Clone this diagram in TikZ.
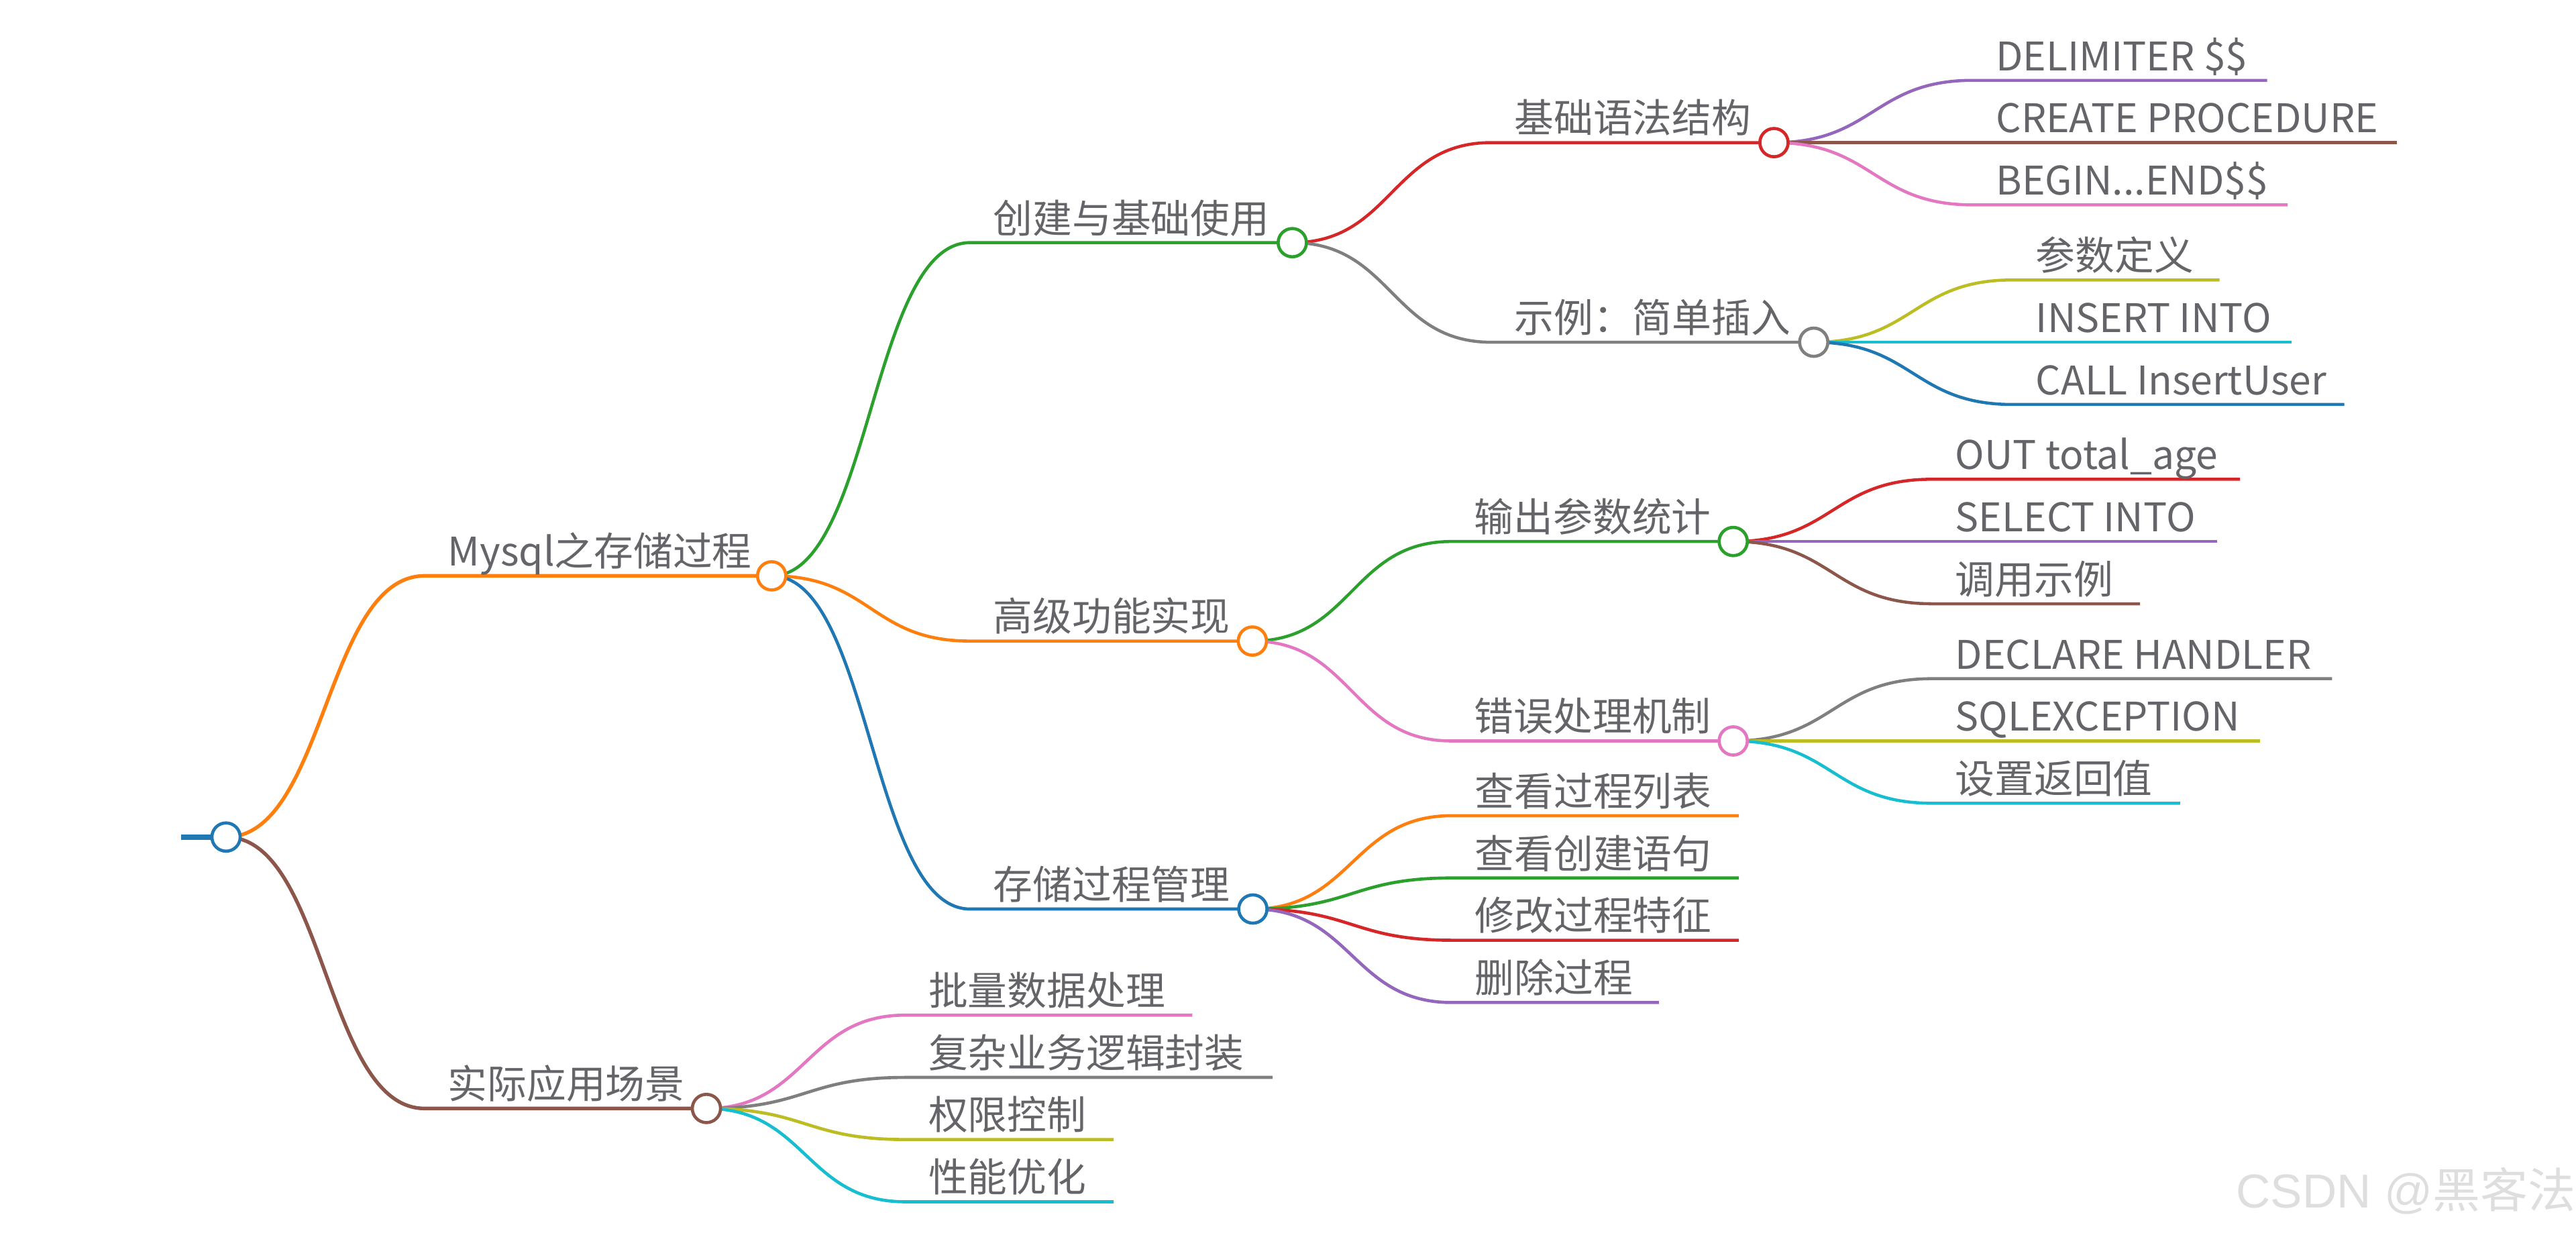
\documentclass[tikz,border=0pt]{standalone}
\usepackage{fontspec}
\setmainfont{Noto Sans CJK SC}
\newfontfamily\wmlatin{Liberation Sans}
\usetikzlibrary{calc}
\definecolor{cBlue}{HTML}{1F77B4}
\definecolor{cOrange}{HTML}{FF7F0E}
\definecolor{cGreen}{HTML}{2CA02C}
\definecolor{cRed}{HTML}{D62728}
\definecolor{cPurple}{HTML}{9467BD}
\definecolor{cBrown}{HTML}{8C564B}
\definecolor{cPink}{HTML}{E377C2}
\definecolor{cGray}{HTML}{7F7F7F}
\definecolor{cOlive}{HTML}{BCBD22}
\definecolor{cCyan}{HTML}{17BECF}
\definecolor{txt}{HTML}{646469}
\definecolor{wmcol}{HTML}{DEDEDE}
\pgfdeclarelayer{bg}
\pgfsetlayers{bg,main}
\newcommand\mmlink[5]{\draw[draw=#1,line width=#2] let \p1=(#3.center), \p2=(#4), \p3=($(#3.center)!.5!(#4)$) in (\p1) .. controls (\x3,\y1) and (\x3,\y2) .. (\p2) -- (#5);}
\tikzset{
  dot/.style={circle, draw=#1, fill=white, line width=1.9pt, minimum size=17.2pt, inner sep=0pt},
  lbl/.style={anchor=base west, inner sep=0pt, text=txt, font=\fontsize{24}{28}\selectfont},
}
\begin{document}
\begin{tikzpicture}[x=1pt,y=-1pt]
\useasboundingbox (0,0) rectangle (1568,750.5);
% root
\coordinate (R0) at (110.3,509.5);
\node[dot=cBlue] (R) at (137.6,509.5) {};
% level 1
\coordinate (A0) at (258.5,350.5);
\node[dot=cOrange] (A) at (469.7,350.5) {};
\node[lbl] (At) at ($(A0)+(14,-6)$) {Mysql之存储过程};
\coordinate (B0) at (258.5,674.7);
\node[dot=cBrown] (B) at (430,674.7) {};
\node[lbl] (Bt) at ($(B0)+(14,-6)$) {实际应用场景};
% level 2
\coordinate (C0) at (590.4,147.7);
\node[dot=cGreen] (C) at (786.6,147.7) {};
\node[lbl] (Ct) at ($(C0)+(14,-6)$) {创建与基础使用};
\coordinate (D0) at (590.4,390.2);
\node[dot=cOrange] (D) at (762.3,390.2) {};
\node[lbl] (Dt) at ($(D0)+(14,-6)$) {高级功能实现};
\coordinate (E0) at (590.4,553.3);
\node[dot=cBlue] (E) at (762.6,553.3) {};
\node[lbl] (Et) at ($(E0)+(14,-6)$) {存储过程管理};
% level 3
\coordinate (F0) at (907.6,86.8);
\node[dot=cRed] (F) at (1079.8,86.8) {};
\node[lbl] (Ft) at ($(F0)+(14,-6)$) {基础语法结构};
\coordinate (G0) at (907.6,208.3);
\node[dot=cGray] (G) at (1104,208.3) {};
\node[lbl] (Gt) at ($(G0)+(14,-6)$) {示例：简单插入};
\coordinate (H0) at (883.3,329.6);
\node[dot=cGreen] (H) at (1055,329.6) {};
\node[lbl] (Ht) at ($(H0)+(14,-6)$) {输出参数统计};
\coordinate (I0) at (883.3,451);
\node[dot=cPink] (I) at (1055,451) {};
\node[lbl] (It) at ($(I0)+(14,-6)$) {错误处理机制};
% leaves of E
\coordinate (E10) at (883.6,496.5); \coordinate (E1e) at (1058.4,496.5);
\node[lbl] (E1t) at ($(E10)+(14,-6)$) {查看过程列表};
\coordinate (E20) at (883.6,534.4); \coordinate (E2e) at (1058.4,534.4);
\node[lbl] (E2t) at ($(E20)+(14,-6)$) {查看创建语句};
\coordinate (E30) at (883.6,572.3); \coordinate (E3e) at (1058.4,572.3);
\node[lbl] (E3t) at ($(E30)+(14,-6)$) {修改过程特征};
\coordinate (E40) at (883.6,610.2); \coordinate (E4e) at (1009.7,610.2);
\node[lbl] (E4t) at ($(E40)+(14,-6)$) {删除过程};
% leaves of B
\coordinate (B10) at (551,617.9); \coordinate (B1e) at (725.8,617.9);
\node[lbl] (B1t) at ($(B10)+(14,-6)$) {批量数据处理};
\coordinate (B20) at (551,655.8); \coordinate (B2e) at (774.6,655.8);
\node[lbl] (B2t) at ($(B20)+(14,-6)$) {复杂业务逻辑封装};
\coordinate (B30) at (551,693.6); \coordinate (B3e) at (677.9,693.6);
\node[lbl] (B3t) at ($(B30)+(14,-6)$) {权限控制};
\coordinate (B40) at (551,731.5); \coordinate (B4e) at (677.9,731.5);
\node[lbl] (B4t) at ($(B40)+(14,-6)$) {性能优化};
% leaves of F
\coordinate (F10) at (1200.8,48.9); \coordinate (F1e) at (1380,48.9);
\node[lbl] (F1t) at ($(F10)+(14,-6)$) {DELIMITER \$\$};
\coordinate (F20) at (1200.8,86.8); \coordinate (F2e) at (1458.8,86.8);
\node[lbl] (F2t) at ($(F20)+(14,-6)$) {CREATE PROCEDURE};
\coordinate (F30) at (1200.8,124.7); \coordinate (F3e) at (1392.4,124.7);
\node[lbl] (F3t) at ($(F30)+(14,-6)$) {BEGIN...END\$\$};
% leaves of G
\coordinate (G10) at (1225,170.4); \coordinate (G1e) at (1351,170.4);
\node[lbl] (G1t) at ($(G10)+(14,-6)$) {参数定义};
\coordinate (G20) at (1225,208.3); \coordinate (G2e) at (1395,208.3);
\node[lbl] (G2t) at ($(G20)+(14,-6)$) {INSERT INTO};
\coordinate (G30) at (1225,246.2); \coordinate (G3e) at (1427,246.2);
\node[lbl] (G3t) at ($(G30)+(14,-6)$) {CALL InsertUser};
% leaves of H
\coordinate (H10) at (1176,291.7); \coordinate (H1e) at (1363.5,291.7);
\node[lbl] (H1t) at ($(H10)+(14,-6)$) {OUT total\_age};
\coordinate (H20) at (1176,329.6); \coordinate (H2e) at (1349.7,329.6);
\node[lbl] (H2t) at ($(H20)+(14,-6)$) {SELECT INTO};
\coordinate (H30) at (1176,367.5); \coordinate (H3e) at (1302.6,367.5);
\node[lbl] (H3t) at ($(H30)+(14,-6)$) {调用示例};
% leaves of I
\coordinate (I10) at (1176,413.1); \coordinate (I1e) at (1419.5,413.1);
\node[lbl] (I1t) at ($(I10)+(14,-6)$) {DECLARE HANDLER};
\coordinate (I20) at (1176,451); \coordinate (I2e) at (1375.5,451);
\node[lbl] (I2t) at ($(I20)+(14,-6)$) {SQLEXCEPTION};
\coordinate (I30) at (1176,488.9); \coordinate (I3e) at (1327,488.9);
\node[lbl] (I3t) at ($(I30)+(14,-6)$) {设置返回值};
% watermark
\node[anchor=base west, inner sep=0pt, text=wmcol, font=\fontsize{29}{33}\selectfont] (wm) at (1361,735) {{\wmlatin CSDN @}黑客法};
% connectors
\begin{pgfonlayer}{bg}
\draw[draw=cBlue, line width=3.1pt] (R0) -- (R.center);
\mmlink{cOrange}{2.2pt}{R}{A0}{A.center}
\mmlink{cBrown}{2.2pt}{R}{B0}{B.center}
\mmlink{cGreen}{1.9pt}{A}{C0}{C.center}
\mmlink{cOrange}{1.9pt}{A}{D0}{D.center}
\mmlink{cBlue}{1.9pt}{A}{E0}{E.center}
\mmlink{cRed}{1.85pt}{C}{F0}{F.center}
\mmlink{cGray}{1.85pt}{C}{G0}{G.center}
\mmlink{cGreen}{1.85pt}{D}{H0}{H.center}
\mmlink{cPink}{1.85pt}{D}{I0}{I.center}
\mmlink{cOrange}{1.9pt}{E}{E10}{E1e}
\mmlink{cGreen}{1.9pt}{E}{E20}{E2e}
\mmlink{cRed}{1.9pt}{E}{E30}{E3e}
\mmlink{cPurple}{1.9pt}{E}{E40}{E4e}
\mmlink{cPink}{1.9pt}{B}{B10}{B1e}
\mmlink{cGray}{1.9pt}{B}{B20}{B2e}
\mmlink{cOlive}{1.9pt}{B}{B30}{B3e}
\mmlink{cCyan}{1.9pt}{B}{B40}{B4e}
\mmlink{cPurple}{1.85pt}{F}{F10}{F1e}
\mmlink{cBrown}{1.85pt}{F}{F20}{F2e}
\mmlink{cPink}{1.85pt}{F}{F30}{F3e}
\mmlink{cOlive}{1.85pt}{G}{G10}{G1e}
\mmlink{cCyan}{1.85pt}{G}{G20}{G2e}
\mmlink{cBlue}{1.85pt}{G}{G30}{G3e}
\mmlink{cRed}{1.85pt}{H}{H10}{H1e}
\mmlink{cPurple}{1.85pt}{H}{H20}{H2e}
\mmlink{cBrown}{1.85pt}{H}{H30}{H3e}
\mmlink{cGray}{1.85pt}{I}{I10}{I1e}
\mmlink{cOlive}{1.85pt}{I}{I20}{I2e}
\mmlink{cCyan}{1.85pt}{I}{I30}{I3e}
\end{pgfonlayer}
\end{tikzpicture}
\end{document}
